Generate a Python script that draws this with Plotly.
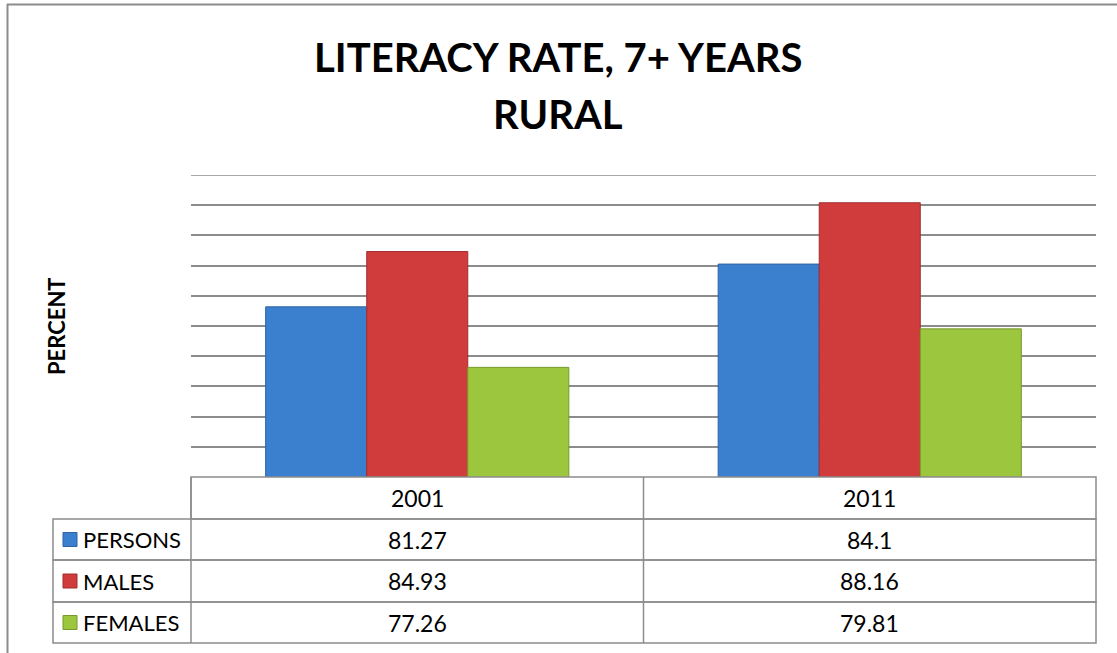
import plotly.graph_objects as go

# ---- data ----
years = ["2001", "2011"]
series_names = ["PERSONS", "MALES", "FEMALES"]
persons = [81.27, 84.1]
males = [84.93, 88.16]
females = [77.26, 79.81]
y_min, y_max, y_step = 70, 90, 2
title_lines = ["LITERACY RATE, 7+ YEARS", "RURAL"]
y_title = "PERCENT"

values = [persons, males, females]
colors = ["#3b7fcf", "#d03c3c", "#9cc63e"]
edge = ["#2f63a3", "#a22e2e", "#779a2f"]

W, H = 1117, 653
L, R, T, B = 191, 21, 175, 176
PW, PH = W - L - R, H - T - B

def px(X):
    return (X - L) / PW

def py(Y):
    return (H - B - Y) / PH

fig = go.Figure()
for name, vals, c, e in zip(series_names, values, colors, edge):
    fig.add_trace(go.Bar(x=years, y=vals, name=name,
                         marker=dict(color=c, line=dict(color=e, width=1))))

FONT = "Lato, Carlito, sans-serif"
grid_col = "#8c8c8c"

fig.update_layout(
    width=W, height=H, margin=dict(l=L, r=R, t=T, b=B, autoexpand=False),
    paper_bgcolor="white", plot_bgcolor="white",
    barmode="group", bargap=0.33, bargroupgap=0,
    showlegend=False,
    font=dict(family=FONT, color="black"),
    xaxis=dict(showticklabels=False, showgrid=False, zeroline=False, showline=False, ticks=""),
    yaxis=dict(range=[y_min, y_max], dtick=y_step, tick0=y_min, showticklabels=False,
               showgrid=True, gridcolor=grid_col, gridwidth=1.5, zeroline=False,
               showline=False, ticks=""),
)

shapes = []
line = dict(color=grid_col, width=1.5)
# top gridline at the axis maximum
shapes.append(dict(type="line", xref="paper", yref="y", x0=0, x1=1, y0=y_max, y1=y_max,
                   line=dict(color=grid_col, width=1.5), layer="below"))
# outer chart border (top and left)
shapes.append(dict(type="line", xref="paper", yref="paper", x0=px(7), x1=px(W + 5),
                   y0=py(4.5), y1=py(4.5), line=dict(color="#8c8c8c", width=2)))
shapes.append(dict(type="line", xref="paper", yref="paper", x0=px(7.5), x1=px(7.5),
                   y0=py(4), y1=py(H + 5), line=dict(color="#8c8c8c", width=2)))

# data table rows
row_y = [477, 519, 560, 602, 643]
x_left, x_right = 53, W - R
shapes.append(dict(type="rect", xref="paper", yref="paper", x0=px(L), x1=px(x_right),
                   y0=py(row_y[0]), y1=py(row_y[1]), line=line))
for i in range(1, 4):
    shapes.append(dict(type="rect", xref="paper", yref="paper", x0=px(x_left), x1=px(x_right),
                       y0=py(row_y[i]), y1=py(row_y[i + 1]), line=line))
shapes.append(dict(type="line", xref="paper", yref="paper", x0=px(L), x1=px(L),
                   y0=py(row_y[0]), y1=py(row_y[4]), line=line))
shapes.append(dict(type="line", xref="paper", yref="paper", x0=0.5, x1=0.5,
                   y0=py(row_y[0]), y1=py(row_y[4]), line=line))

annotations = []
# title (two lines)
for txt, yc in zip(title_lines, [57, 114]):
    annotations.append(dict(text=txt, xref="paper", yref="paper", x=px(557.5), y=py(yc),
                            showarrow=False, xanchor="center", yanchor="middle",
                            font=dict(family=FONT, size=40, color="black", weight="bold")))
# header labels
TF = 23
for j, yr in enumerate(years):
    annotations.append(dict(text=yr, xref="paper", yref="paper", x=0.25 + 0.5 * j,
                            y=py((row_y[0] + row_y[1]) / 2), showarrow=False,
                            xanchor="center", yanchor="middle",
                            font=dict(family=FONT, size=TF, color="black")))
# body
for i, (name, vals, c, e) in enumerate(zip(series_names, values, colors, edge)):
    yc = (row_y[i + 1] + row_y[i + 2]) / 2
    shapes.append(dict(type="rect", xref="paper", yref="paper", x0=px(63), x1=px(77),
                       y0=py(yc - 7), y1=py(yc + 7), fillcolor=c, line=dict(color=e, width=1)))
    annotations.append(dict(text=name, xref="paper", yref="paper", x=px(81), y=py(yc),
                            showarrow=False, xanchor="left", yanchor="middle",
                            font=dict(family=FONT, size=22, color="black")))
    for j, v in enumerate(vals):
        annotations.append(dict(text=str(v), xref="paper", yref="paper", x=0.25 + 0.5 * j,
                                y=py(yc), showarrow=False, xanchor="center", yanchor="middle",
                                font=dict(family=FONT, size=TF, color="black")))

# y-axis title
annotations.append(dict(text=y_title, xref="paper", yref="paper", x=px(56), y=py(326),
                        showarrow=False, textangle=-90, xanchor="center", yanchor="middle",
                        font=dict(family=FONT, size=22, color="black", weight="bold")))

fig.update_layout(shapes=shapes, annotations=annotations)
fig.write_html("out.html")
